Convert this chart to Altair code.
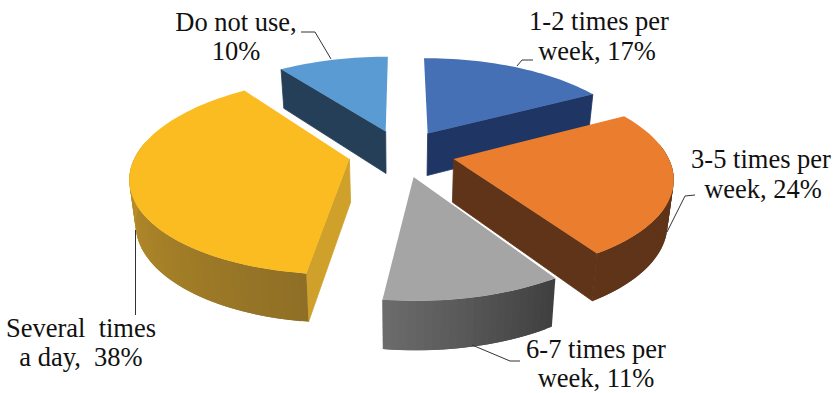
import math
import altair as alt

# Usage frequency shares, in percent, going clockwise from twelve o'clock
categories = ["1-2 times per week", "3-5 times per week", "6-7 times per week", "Several times a day", "Do not use"]
shares = [17, 24, 11, 38, 10]

top_colors = ["#4570B5", "#EA7D2E", "#A5A5A5", "#FBBC21", "#5B9BD3"]
cut_colors = ["#1F3564", "#5F3418", "#5A5A5A", "#CFA02A", "#243F57"]
# rim colour at the start and at the end of each slice's arc
rim_colors = [("#1F3564", "#1F3564"), ("#5F3418", "#5F3418"), ("#3F3F3F", "#6C6C6C"),
              ("#8F6F26", "#D8A62C"), ("#243F57", "#243F57")]

label_lines = ["Do not use,", "10%", "1-2 times per", "week, 17%", "3-5 times per", "week, 24%",
               "Several\u00a0 times", "a day,\u00a0 38%", "6-7 times per", "week, 11%"]
label_x = [236, 236, 599, 597, 761, 763, 81, 81, 596, 596]
label_y = [31, 60, 30, 60, 168, 198, 337, 366, 358, 387]

leader_paths = [
    [(301, 32), (315, 32), (331, 59)],
    [(533, 60), (522, 60), (517, 66)],
    [(695, 195), (685, 196), (667, 232)],
    [(135.5, 230), (135.5, 315)],
    [(472, 345), (510, 361), (520, 361)],
]

# Tilted, perspective view of the exploded disc
CX, CY = 401.5, 153
RX, RY = 213, 94
PERSPECTIVE = 0.168
EXPLODE = 0.25
DEPTH = 43
BASE_SHRINK = 0.977
RIM_CUTOFF = 0.15  # rim strips further back than this are hidden behind the top face


def project(x, y):
    s = 1 / (1 + PERSPECTIVE * y)
    return (CX + RX * x * s, CY - RY * y * s, s)


def top_point(x, y):
    px, py, _ = project(x, y)
    return [px, py]


def base_point(x, y):
    px, py, s = project(x, y)
    return [CX + (px - CX) * BASE_SHRINK, py + DEPTH * s ** 0.6]


def mix(a, b, t):
    ca = [int(a[i:i + 2], 16) for i in (1, 3, 5)]
    cb = [int(b[i:i + 2], 16) for i in (1, 3, 5)]
    return "#" + "".join(f"{round(p + (q - p) * t):02x}" for p, q in zip(ca, cb))


def polygon(points, fill, outline="transparent"):
    ring = points + [points[0]]
    return {"type": "Feature", "properties": {"fill": fill, "outline": outline},
            "geometry": {"type": "Polygon", "coordinates": [ring]}}


def wall(ox, oy, edge, color):
    # Outlined in its own colour so the joint with the rim does not show
    return polygon([top_point(ox, oy), top_point(*edge), base_point(*edge), base_point(ox, oy)], color, color)


def slice_faces(start, share, top, cut, rim):
    end = start + share * 3.6
    mid = math.radians((start + end) / 2)
    ox, oy = EXPLODE * math.sin(mid), EXPLODE * math.cos(mid)
    steps = max(12, int(share * 2))
    angles = [math.radians(start + (end - start) * i / steps) for i in range(steps + 1)]
    rim_xy = [(ox + math.sin(a), oy + math.cos(a)) for a in angles]

    faces = []
    # Only the cut walls that turn toward the viewer get drawn
    if math.sin(math.radians(start)) < -0.01:
        faces.append(wall(ox, oy, rim_xy[0], cut))
    if math.sin(math.radians(end)) > 0.01:
        faces.append(wall(ox, oy, rim_xy[-1], cut))
    # Each rim strip runs one step past its neighbour so no seams show through
    for i in range(steps):
        if math.cos(angles[i]) > RIM_CUTOFF and math.cos(angles[i + 1]) > RIM_CUTOFF:
            continue
        p, q = rim_xy[i], rim_xy[min(i + 2, steps)]
        faces.append(polygon([top_point(*p), top_point(*q), base_point(*q), base_point(*p)],
                             mix(rim[0], rim[1], (i + 0.5) / steps)))
    faces.append(polygon([top_point(ox, oy)] + [top_point(*p) for p in rim_xy], top))
    return faces


starts = [sum(shares[:i]) * 3.6 for i in range(len(shares))]
# Painted back to front
paint_order = [4, 0, 3, 1, 2]
features = []
for k in paint_order:
    features += slice_faces(starts[k], shares[k], top_colors[k], cut_colors[k], rim_colors[k])

leader_features = [
    {"type": "Feature", "properties": {},
     "geometry": {"type": "LineString", "coordinates": [list(p) for p in path]}}
    for path in leader_paths
]

identity = dict(type="identity", scale=1, translate=[0, 0])

pie = (
    alt.Chart(alt.Data(values=features))
    .mark_geoshape(strokeWidth=0.8)
    .encode(
        fill=alt.Fill("properties.fill:N", scale=None, legend=None),
        stroke=alt.Stroke("properties.outline:N", scale=None, legend=None),
    )
    .project(**identity)
)

leaders = (
    alt.Chart(alt.Data(values=leader_features))
    .mark_geoshape(filled=False, stroke="#333333", strokeWidth=1)
    .project(**identity)
)

labels = (
    alt.Chart(alt.Data(values=[
        {"line": t, "x": x, "y": y} for t, x, y in zip(label_lines, label_x, label_y)
    ]))
    .mark_text(font="'Liberation Serif', 'Times New Roman', serif", fontSize=26.5, color="#111111",
               align="center", baseline="alphabetic")
    .encode(
        x=alt.X("x:Q", scale=None, axis=None),
        y=alt.Y("y:Q", scale=None, axis=None),
        text="line:N",
    )
)

chart = (
    alt.layer(pie, leaders, labels)
    .properties(width=833, height=393, padding=0, autosize=alt.AutoSizeParams(type="none"), background="white")
    .configure_view(stroke=None)
)

chart.save("out.html", embed_options={"renderer": "svg", "actions": False})
